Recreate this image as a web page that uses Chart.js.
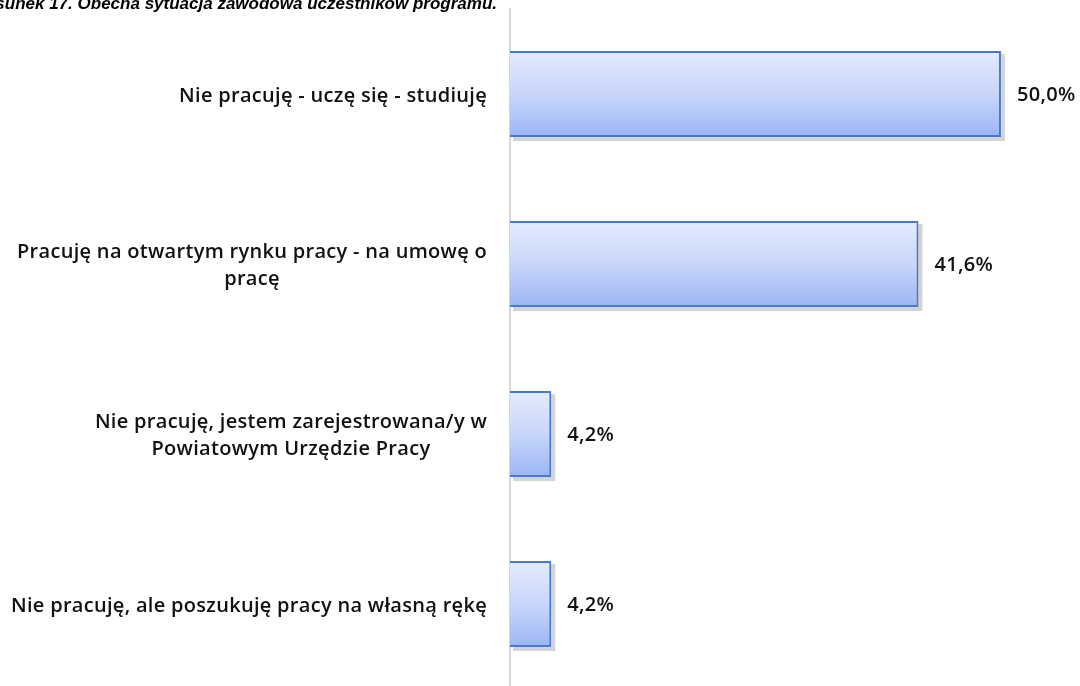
<!DOCTYPE html>
<html>
<head>
<meta charset="utf-8">
<script src="https://cdn.jsdelivr.net/npm/chart.js@4/dist/chart.umd.min.js"></script>
<style>
  html, body { margin:0; padding:0; background:#fff; overflow:hidden; }
  #wrap { position:relative; width:1080px; height:700px; }
</style>
</head>
<body>
<div id="wrap"><canvas id="c" width="1080" height="700"></canvas></div>
<script>
const titleText = "Rysunek 17. Obecna sytuacja zawodowa uczestników programu.";
const categories = [
  ["Nie pracuję - uczę się - studiuję"],
  ["Pracuję na otwartym rynku pracy - na umowę o", "pracę"],
  ["Nie pracuję, jestem zarejestrowana/y w", "Powiatowym Urzędzie Pracy"],
  ["Nie pracuję, ale poszukuję pracy na własną rękę"]
];
const values = [50.0, 41.6, 4.2, 4.2];
const valueLabels = ["50,0%", "41,6%", "4,2%", "4,2%"];

const LABEL_FONT = "600 20px 'Open Sans'";
const VALUE_FONT = "600 20px 'Open Sans'";

function barGradient(ctx) {
  const chart = ctx.chart;
  const ys = chart.scales && chart.scales.y;
  if (!ys || ctx.type !== 'data') return '#c3d3fa';
  const c = ys.getPixelForValue(ctx.dataIndex);
  const half = (ys.height / categories.length) * 0.506 / 2;
  if (!isFinite(c) || !isFinite(half) || half <= 0) return '#c3d3fa';
  const g = chart.ctx.createLinearGradient(0, c - half, 0, c + half);
  g.addColorStop(0, '#e4ebfd');
  g.addColorStop(0.5, '#c8d6fa');
  g.addColorStop(1, '#9bb5f4');
  return g;
}

const decorPlugin = {
  id: 'decor',
  beforeDatasetsDraw(chart) {
    const ctx = chart.ctx;
    const meta = chart.getDatasetMeta(0);
    ctx.save();
    ctx.fillStyle = 'rgba(160,160,160,0.45)';
    meta.data.forEach(el => {
      const p = el.getProps(['x','y','base','height'], true);
      const top = p.y - p.height/2;
      ctx.fillRect(p.base + 3, top + 3, p.x - p.base + 1, p.height + 1);
    });
    ctx.restore();
  },
  afterDatasetsDraw(chart) {
    const ctx = chart.ctx;
    const meta = chart.getDatasetMeta(0);
    const ys = chart.scales.y;
    ctx.save();
    ctx.letterSpacing = '0.3px';
    ctx.font = VALUE_FONT;
    ctx.fillStyle = '#111';
    ctx.textAlign = 'left';
    ctx.textBaseline = 'middle';
    meta.data.forEach((el, i) => {
      const p = el.getProps(['x','y'], true);
      ctx.fillText(valueLabels[i], p.x + 16, p.y + 1);
    });
    ctx.font = LABEL_FONT;
    ctx.textAlign = 'center';
    const rightX = 487, lh = 27;
    categories.forEach((lines, i) => {
      const cy = ys.getPixelForTick(i) + 2;
      const w = Math.max(...lines.map(l => ctx.measureText(l).width));
      const cx = rightX - w/2;
      const startY = cy - (lines.length - 1) * lh / 2;
      lines.forEach((l, j) => ctx.fillText(l, cx, startY + j*lh));
    });
    ctx.letterSpacing = '0px';
    ctx.font = "italic bold 17px 'Liberation Sans'";
    ctx.textAlign = 'right';
    ctx.textBaseline = 'alphabetic';
    ctx.fillStyle = '#000';
    ctx.fillText(titleText, 497, 9);
    ctx.restore();
  }
};

new Chart(document.getElementById('c'), {
  type: 'bar',
  data: {
    labels: categories,
    datasets: [{
      data: values,
      backgroundColor: barGradient,
      borderColor: '#4a78cc',
      borderWidth: 2,
      borderSkipped: 'start',
      barPercentage: 0.506,
      categoryPercentage: 1.0
    }]
  },
  options: {
    indexAxis: 'y',
    responsive: false,
    animation: false,
    layout: { padding: { top: 9, bottom: 11, left: 0, right: 10.3 } },
    plugins: { legend: { display: false }, tooltip: { enabled: false }, title: { display: false } },
    scales: {
      x: { display: false, min: 0, max: 57 },
      y: {
        afterFit(s) { s.width = 510; },
        ticks: { display: false },
        grid: { display: false },
        border: { display: true, color: '#d6d6d6', width: 2 }
      }
    }
  },
  plugins: [decorPlugin]
});
</script>
</body>
</html>
